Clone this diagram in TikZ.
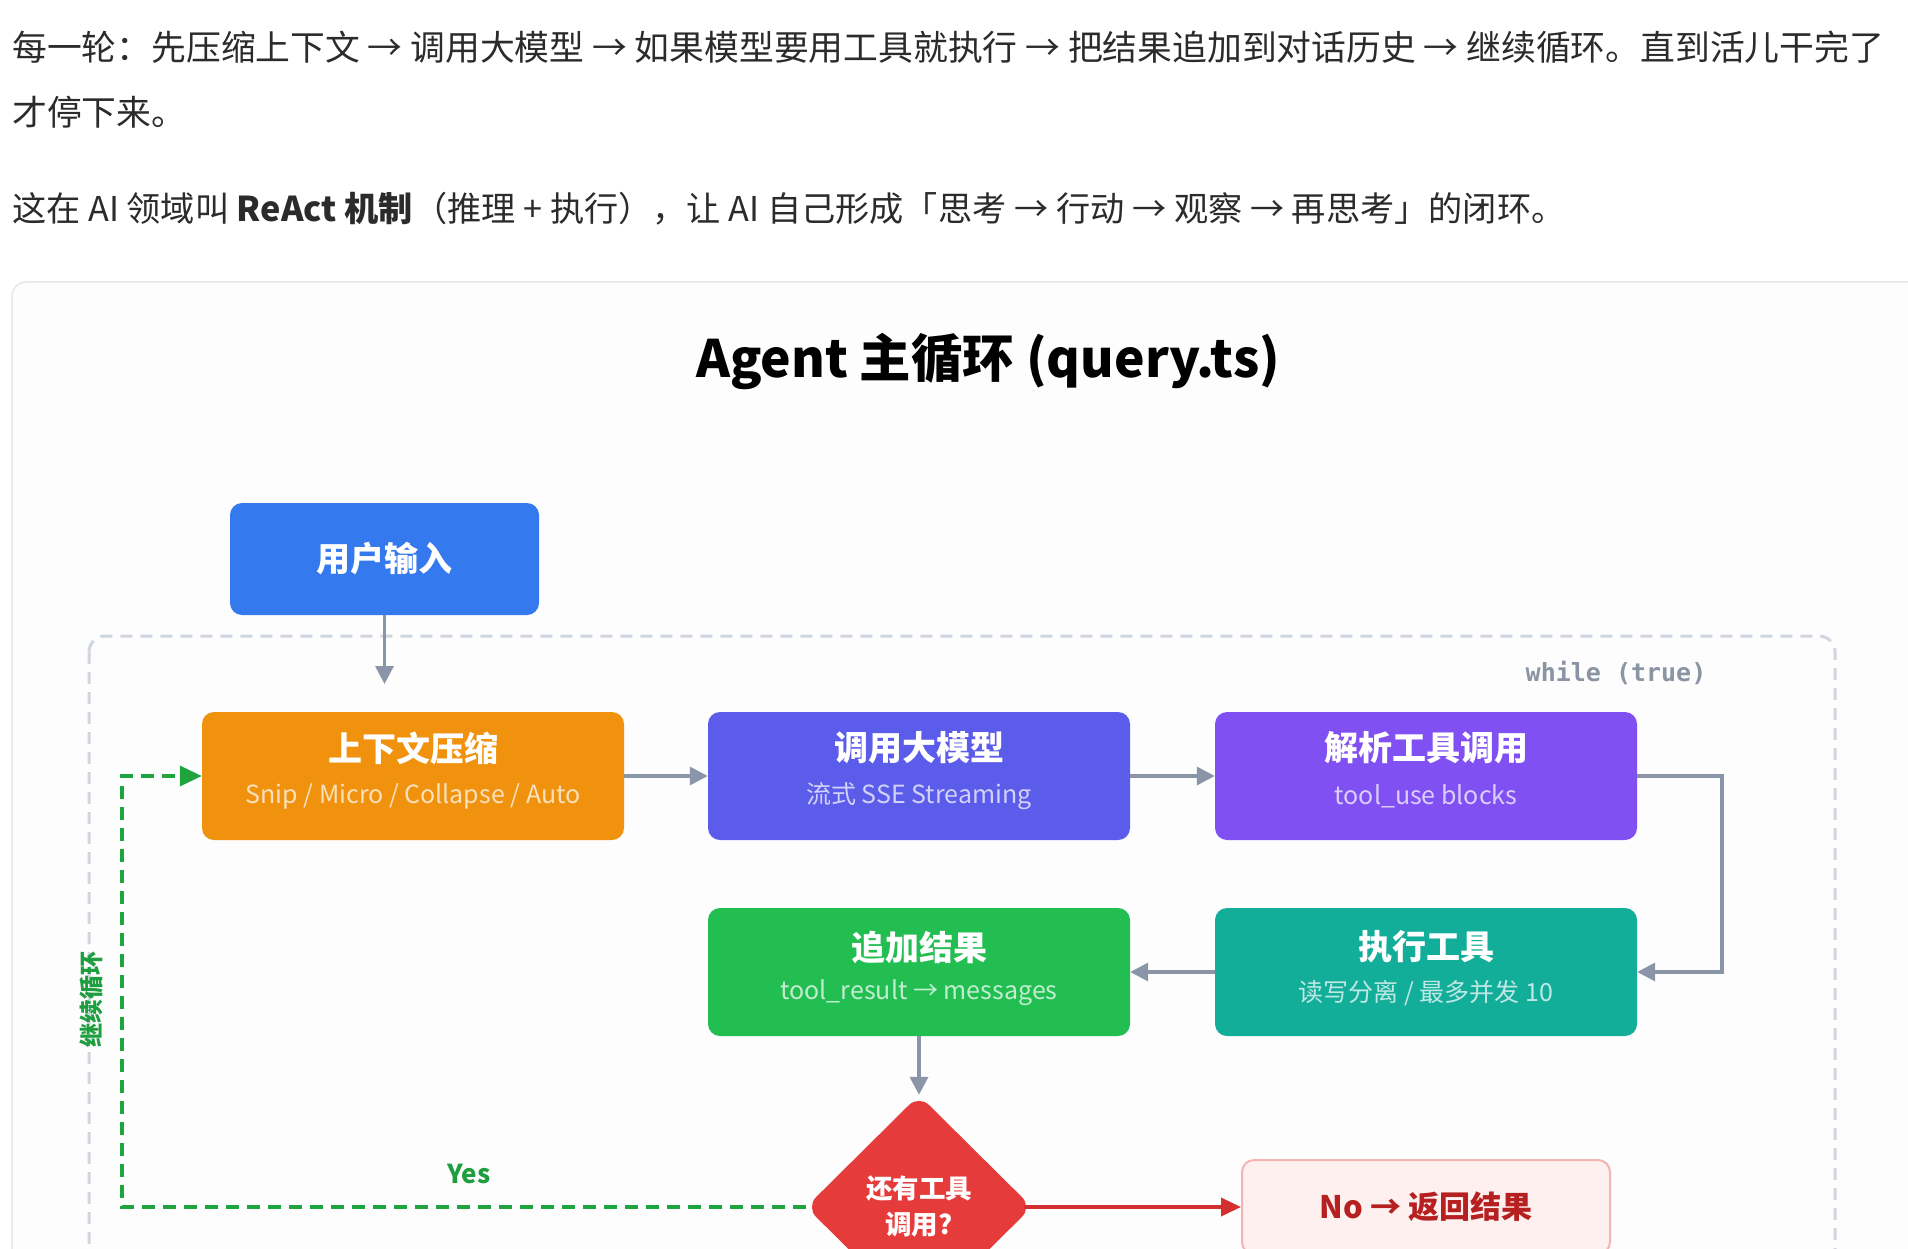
\documentclass[tikz,border=0pt]{standalone}
\usepackage{fontspec}
\setmainfont{Noto Sans CJK SC}
\newfontfamily\monofnt{DejaVu Sans Mono}
\usetikzlibrary{arrows.meta,shapes.geometric,calc}
\definecolor{txt}{HTML}{2B2B2B}
\definecolor{cBlue}{HTML}{3579EE}
\definecolor{cOrange}{HTML}{F1920F}
\definecolor{cIndigo}{HTML}{5B5CEA}
\definecolor{cPurple}{HTML}{8150F3}
\definecolor{cGreen}{HTML}{23BE52}
\definecolor{cTeal}{HTML}{12AE9A}
\definecolor{cRed}{HTML}{E63B3B}
\definecolor{noFill}{HTML}{FDF0EF}
\definecolor{noDraw}{HTML}{F4B4B4}
\definecolor{noText}{HTML}{B62020}
\definecolor{arrGray}{HTML}{8A96A8}
\definecolor{loopGray}{HTML}{CFD6DE}
\definecolor{whileGray}{HTML}{8A94A3}
\definecolor{lGreen}{HTML}{1EA540}
\definecolor{lGreenTxt}{HTML}{1E9E3E}
\definecolor{redLine}{HTML}{D32F2F}
\definecolor{panelDraw}{HTML}{E6E7EA}
\definecolor{panelFill}{HTML}{FDFDFE}
\begin{document}
\begin{tikzpicture}[x=1pt,y=-1pt,
  para/.style={anchor=base west, inner sep=0pt, text=txt, font=\fontsize{34.8}{40}\selectfont},
  box/.style={rectangle, rounded corners=12pt, minimum width=422pt, minimum height=128pt, inner sep=0pt},
  ttl/.style={inner sep=0pt, text=white, font=\bfseries\fontsize{34}{40}\selectfont},
  sub/.style={inner sep=0pt, font=\fontsize{25}{30}\selectfont},
  garrow/.style={draw=arrGray, line width=3.5pt, -{Triangle[length=18pt,width=18pt]}},
]
\useasboundingbox (0,0) rectangle (1908,1249);
\clip (0,0) rectangle (1908,1249);
\fill[white] (0,0) rectangle (1908,1249);

% paragraph
\node[para] (p1) at (12,61) {每一轮：先压缩上下文 → 调用大模型 → 如果模型要用工具就执行 → 把结果追加到对话历史 → 继续循环。直到活儿干完了};
\node[para] (p2) at (12,126) {才停下来。};
\node[para, font=\fontsize{34.2}{40}\selectfont] (p3) at (12,222) {这在 AI 领域叫 \textbf{ReAct 机制}（推理 + 执行），让 AI 自己形成「思考 → 行动 → 观察 → 再思考」的闭环。};

% panel
\draw[draw=panelDraw, fill=panelFill, line width=1.5pt, rounded corners=14pt] (12,282) rectangle (1940,1300);

% title
\node[anchor=base, inner sep=0pt, text=black, font=\bfseries\fontsize{51.5}{56}\selectfont] (title) at (988,377) {Agent 主循环 (query.ts)};

% loop container
\draw[draw=loopGray, line width=3pt, dash pattern=on 12pt off 8pt, rounded corners=16pt] (89,636) rectangle (1835,1320);
\node[inner sep=0pt, text=whileGray, font=\monofnt\bfseries\fontsize{25}{28}\selectfont] (wt) at (1616,673) {while (true)};

% input
\node[box, fill=cBlue, minimum width=309pt, minimum height=112pt] (inp) at (384.5,559) {};
\node[ttl] (inpT) at (inp.center) {用户输入};

% row 1
\node[box, fill=cOrange] (cmp) at (413,776) {};
\node[ttl] (cmpT) at ($(cmp.center)+(0,-28)$) {上下文压缩};
\node[sub, text=white!72!cOrange] (cmpS) at ($(cmp.center)+(0,20)$) {Snip / Micro / Collapse / Auto};

\node[box, fill=cIndigo] (llm) at (919,776) {};
\node[ttl] (llmT) at ($(llm.center)+(0,-28)$) {调用大模型};
\node[sub, text=white!72!cIndigo] (llmS) at ($(llm.center)+(0,20)$) {流式 SSE Streaming};

\node[box, fill=cPurple] (prs) at (1426,776) {};
\node[ttl] (prsT) at ($(prs.center)+(0,-28)$) {解析工具调用};
\node[sub, text=white!72!cPurple] (prsS) at ($(prs.center)+(0,20)$) {tool\_use blocks};

% row 2
\node[box, fill=cGreen] (app) at (919,972) {};
\node[ttl] (appT) at ($(app.center)+(0,-25)$) {追加结果};
\node[sub, text=white!72!cGreen] (appS) at ($(app.center)+(0,21)$) {tool\_result → messages};

\node[box, fill=cTeal] (exe) at (1426,972) {};
\node[ttl] (exeT) at ($(exe.center)+(0,-25)$) {执行工具};
\node[sub, text=white!72!cTeal] (exeS) at ($(exe.center)+(0,21)$) {读写分离 / 最多并发 10};

% decision
\node[diamond, fill=cRed, minimum width=226pt, minimum height=224pt, inner sep=0pt, rounded corners=14pt] (dia) at (919,1207) {};
\node[inner sep=0pt, text=white, font=\bfseries\fontsize{26.5}{30}\selectfont] (diaT1) at (919,1189) {还有工具};
\node[inner sep=0pt, text=white, font=\bfseries\fontsize{26.5}{30}\selectfont] (diaT2) at (919,1225) {调用?};

% no box
\node[rectangle, rounded corners=12pt, draw=noDraw, line width=2pt, fill=noFill, minimum width=368pt, minimum height=94pt] (no) at (1426,1207) {};
\node[inner sep=0pt, text=noText, font=\bfseries\fontsize{31}{36}\selectfont] (noT) at (no.center) {No → 返回结果};

% connectors
\coordinate (inTip) at (384.5,684);
\draw[garrow] (inp.south) -- (inTip);
\draw[garrow] (cmp.east) -- (llm.west);
\draw[garrow] (llm.east) -- (prs.west);
\coordinate (bend) at (1722,776);
\draw[garrow] (prs.east) -- (bend) |- (exe.east);
\draw[garrow] (exe.west) -- (app.east);
\draw[garrow] (app.south) -- (dia.north);
\draw[draw=redLine, line width=3.5pt, -{Triangle[length=20pt,width=18pt]}] ([xshift=-8pt]dia.east) -- (no.west);

\coordinate (gl) at (122,1207);
\draw[draw=lGreen, line width=3.6pt, dash pattern=on 13pt off 8pt, -{Triangle[length=22pt,width=20pt,sep=0pt]}] (dia.west) -- (gl) |- (cmp.west);
\node[inner sep=0pt, text=lGreenTxt, font=\bfseries\fontsize{26}{28}\selectfont] (yes) at (469,1174) {Yes};
\node[inner sep=0pt, rotate=90, text=lGreenTxt, font=\bfseries\fontsize{24}{28}\selectfont] (cont) at (91,999) {继续循环};
\end{tikzpicture}
\end{document}
